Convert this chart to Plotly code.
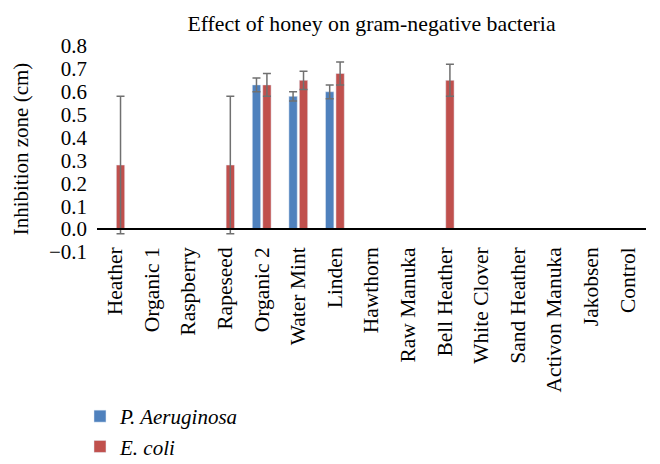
import plotly.graph_objects as go

categories = ["Heather", "Organic 1", "Raspberry", "Rapeseed", "Organic 2", "Water Mint",
              "Linden", "Hawthorn", "Raw Manuka", "Bell Heather", "White Clover",
              "Sand Heather", "Activon Manuka", "Jakobsen", "Control"]
p_aeruginosa = [0, 0, 0, 0, 0.63, 0.58, 0.60, 0, 0, 0, 0, 0, 0, 0, 0]
p_aeruginosa_err = [0, 0, 0, 0, 0.03, 0.02, 0.03, 0, 0, 0, 0, 0, 0, 0, 0]
e_coli = [0.28, 0, 0, 0.28, 0.63, 0.65, 0.68, 0, 0, 0.65, 0, 0, 0, 0, 0]
e_coli_err = [0.30, 0, 0, 0.30, 0.05, 0.04, 0.05, 0, 0, 0.07, 0, 0, 0, 0, 0]
y_ticks = [-0.1, 0.0, 0.1, 0.2, 0.3, 0.4, 0.5, 0.6, 0.7, 0.8]

FONT = "Liberation Serif"
err_style = dict(type="data", color="#707070", thickness=1.5, width=4)

fig = go.Figure()
fig.add_trace(go.Bar(
    x=categories, y=p_aeruginosa, name="<i>P. Aeruginosa</i>",
    marker_color="#4F81BD",
    error_y=dict(array=p_aeruginosa_err, **err_style),
))
fig.add_trace(go.Bar(
    x=categories, y=e_coli, name="<i>E. coli</i>",
    marker_color="#C0504D",
    error_y=dict(array=e_coli_err, **err_style),
))

# the page body has an 8px margin, so the figure is made 8px smaller and margins shifted
fig.update_layout(
    width=652, height=456,
    margin=dict(l=89, r=14, t=38, b=212, autoexpand=False),
    paper_bgcolor="white", plot_bgcolor="white",
    font=dict(family=FONT, size=21, color="black"),
    barmode="group", bargap=0.43, bargroupgap=0.2,
    title=dict(text="Effect of honey on gram-negative bacteria", x=0.5, xref="paper",
               y=0.967, yanchor="middle", font=dict(family=FONT, size=21.8, color="black")),
    showlegend=True,
    legend=dict(x=-0.031, xanchor="left", y=-0.699, yanchor="top", orientation="v",
                font=dict(family=FONT, size=21, color="black"), bgcolor="rgba(0,0,0,0)"),
)
fig.update_yaxes(
    range=[-0.1, 0.8], tickvals=y_ticks, tickformat=".1f",
    tickfont=dict(family=FONT, size=21, color="black"),
    showgrid=False, zeroline=False, showline=False, ticks="",
    ticklabelstandoff=9,
    title=dict(text="Inhibition zone (cm)", standoff=14, font=dict(family=FONT, size=21)),
)
fig.update_xaxes(
    anchor="free", position=0.1117,
    tickfont=dict(family=FONT, size=21.5, color="black"),
    showline=True, linecolor="black", linewidth=1.5,
    showgrid=False, ticks="", tickangle=-90, ticklabelstandoff=9,
)

fig.write_html("out.html")
